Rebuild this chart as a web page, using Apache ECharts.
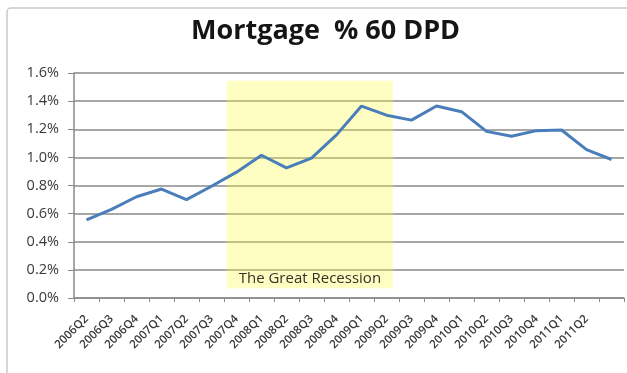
<!DOCTYPE html>
<html>
<head>
<meta charset="utf-8">
<script src="https://cdn.jsdelivr.net/npm/echarts@6/dist/echarts.min.js"></script>
<style>
  html, body { margin: 0; padding: 0; background: #ffffff; }
  #chart { width: 627px; height: 373px; }
</style>
</head>
<body>
<div id="chart"></div>
<script>
// Quarterly share of mortgages 60+ days past due (percent)
const quarters = ['2006Q2','2006Q3','2006Q4','2007Q1','2007Q2','2007Q3','2007Q4',
  '2008Q1','2008Q2','2008Q3','2008Q4','2009Q1','2009Q2','2009Q3','2009Q4',
  '2010Q1','2010Q2','2010Q3','2010Q4','2011Q1','2011Q2',''];
const dpd60 = [0.555, 0.63, 0.72, 0.775, 0.70, 0.795, 0.895,
  1.015, 0.925, 0.995, 1.16, 1.365, 1.30, 1.265, 1.365,
  1.325, 1.185, 1.15, 1.19, 1.195, 1.055, 0.985];
const yTicks = [0, 0.2, 0.4, 0.6, 0.8, 1.0, 1.2, 1.4, 1.6];

// Shaded recession window, in category-slot units (slot i spans [i, i+1])
const recessionX = [6.11, 12.76];
const recessionY = [0.07, 1.545];
const recessionLabel = 'The Great Recession';

const chart = echarts.init(document.getElementById('chart'), null, { renderer: 'canvas' });
const gridColor = '#8a8a8a';
const textColor = '#3a3a3a';

chart.setOption({
  animation: false,
  backgroundColor: '#ffffff',
  title: {
    text: 'Mortgage  % 60 DPD',
    left: 186,
    top: 13,
    textStyle: { fontFamily: 'Open Sans', fontWeight: 'bold', fontSize: 27, color: '#151515' }
  },
  graphic: [{
    type: 'rect',
    shape: { x: 7, y: 8, width: 660, height: 420, r: 4 },
    style: { fill: 'none', stroke: '#c9c9c9', lineWidth: 1.5 },
    silent: true,
    z: 0
  }],
  grid: { left: 74, right: 3, top: 73, bottom: 75 },
  xAxis: [{
    type: 'category',
    data: quarters,
    boundaryGap: true,
    axisLine: { show: true, lineStyle: { color: gridColor, width: 1.5 } },
    axisTick: { show: true, length: 4, alignWithLabel: false, lineStyle: { color: gridColor } },
    axisLabel: {
      interval: 0, rotate: 45, margin: 19,
      fontFamily: 'Open Sans', fontSize: 11.5, fontWeight: 600, color: textColor
    },
    splitLine: { show: false }
  }, {
    type: 'value',
    min: 0,
    max: quarters.length,
    show: false
  }],
  yAxis: {
    type: 'value',
    min: yTicks[0],
    max: yTicks[yTicks.length - 1],
    interval: 0.2,
    axisLine: { show: true, lineStyle: { color: gridColor, width: 1.5 } },
    axisTick: { show: true, length: 6, lineStyle: { color: gridColor } },
    axisLabel: {
      margin: 15,
      fontFamily: 'Open Sans', fontSize: 14.5, fontWeight: 500, color: textColor,
      formatter: v => v.toFixed(1) + '%'
    },
    splitLine: { show: true, lineStyle: { color: gridColor, width: 1.5 } }
  },
  series: [{
    type: 'line',
    data: dpd60,
    xAxisIndex: 0,
    symbol: 'none',
    lineStyle: { color: '#4a7ebb', width: 3 },
    z: 2
  }, {
    type: 'line',
    xAxisIndex: 1,
    data: [],
    z: 5,
    silent: true,
    markArea: {
      silent: true,
      itemStyle: {
        color: 'rgba(255, 250, 60, 0.26)',
        shadowBlur: 4,
        shadowColor: 'rgba(255, 250, 60, 0.3)'
      },
      label: {
        show: true,
        position: 'insideBottom',
        distance: 2,
        fontFamily: 'Open Sans',
        fontSize: 15,
        fontWeight: 500,
        color: '#33332a'
      },
      data: [[
        { name: recessionLabel, xAxis: recessionX[0], yAxis: recessionY[0] },
        { xAxis: recessionX[1], yAxis: recessionY[1] }
      ]]
    }
  }]
});
</script>
</body>
</html>
